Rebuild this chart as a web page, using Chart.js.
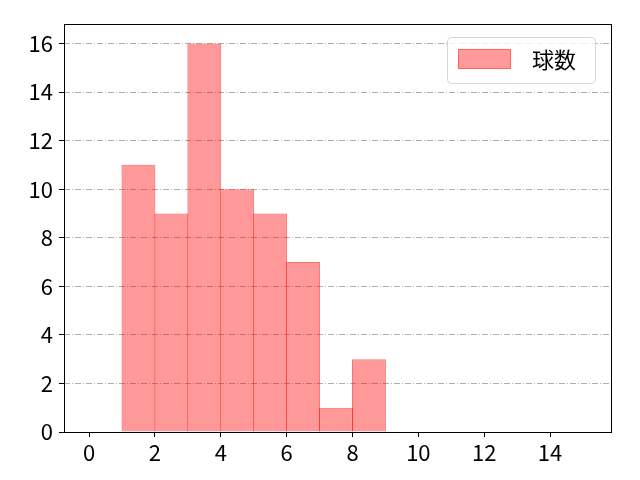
<!DOCTYPE html>
<html><head><meta charset="utf-8">
<script src="https://cdn.jsdelivr.net/npm/chart.js@4/dist/chart.umd.min.js"></script>
<style>html,body{margin:0;padding:0;background:#fff}#wrap{width:640px;height:480px}</style>
</head><body><div id="wrap"><canvas id="c" width="640" height="480"></canvas></div>
<script>
const binEdges = [1, 2, 3, 4, 5, 6, 7, 8, 9];
const counts = [11, 9, 16, 10, 9, 7, 1, 3];
const xTicks = [0, 2, 4, 6, 8, 10, 12, 14];
const yTicks = [0, 2, 4, 6, 8, 10, 12, 14, 16];
const seriesLabel = '球数';

const FONT = '"Noto Sans CJK JP", "Noto Sans", sans-serif';
const data = counts.map((v, i) => ({x: (binEdges[i] + binEdges[i + 1]) / 2, y: v}));

const frame = {
  id: 'frame',
  afterDraw(chart) {
    const {ctx, chartArea: a} = chart;
    ctx.save();
    ctx.strokeStyle = '#000';
    ctx.lineWidth = 1;
    ctx.strokeRect(Math.round(a.left) + 0.5, Math.round(a.top) + 0.5, Math.round(a.right - a.left), Math.round(a.bottom - a.top));
    // legend
    const ds = chart.data.datasets[0];
    const bx = 447.5, by = 37.5, bw = 148, bh = 46, r = 4;
    ctx.beginPath();
    ctx.roundRect(bx, by, bw, bh, r);
    ctx.fillStyle = 'rgba(255,255,255,0.8)';
    ctx.fill();
    ctx.strokeStyle = '#d6d6d6';
    ctx.stroke();
    ctx.fillStyle = ds.backgroundColor;
    ctx.fillRect(458, 49, 53, 20);
    ctx.strokeStyle = 'rgba(255,0,0,0.35)';
    ctx.strokeRect(458.5, 49.5, 52, 19);
    ctx.fillStyle = '#000';
    ctx.font = '22px ' + FONT;
    ctx.textBaseline = 'middle';
    ctx.fillText(ds.label, 532, 60);
    ctx.restore();
  }
};

new Chart(document.getElementById('c'), {
  type: 'bar',
  data: {datasets: [{
    label: seriesLabel,
    data: data,
    backgroundColor: 'rgba(255,0,0,0.4)',
    borderColor: 'rgba(255,0,0,0.55)',
    borderWidth: 1,
    barPercentage: 1.03,
    categoryPercentage: 1,
    grouped: false
  }]},
  options: {
    responsive: false,
    animation: false,
    devicePixelRatio: 1,
    layout: {padding: {top: 24, right: 29, left: 0, bottom: 0}},
    plugins: {legend: {display: false}, tooltip: {enabled: false}},
    scales: {
      x: {
        type: 'linear',
        offset: false,
        min: -0.76, max: 15.85,
        afterBuildTicks: s => { s.ticks = xTicks.map(v => ({value: v})); },
        afterFit: s => { s.height = 48; },
        grid: {offset: false, drawOnChartArea: false, drawTicks: true, tickLength: 5, tickColor: '#000', tickWidth: 1},
        border: {display: false},
        ticks: {color: '#000', font: {family: FONT, size: 22}, padding: 2, maxRotation: 0, autoSkip: false}
      },
      y: {
        z: 1,
        min: 0, max: 16.8,
        afterBuildTicks: s => { s.ticks = yTicks.map(v => ({value: v})); },
        afterFit: s => { s.width = 64; },
        grid: {color: '#b0b0b0', lineWidth: 1, drawTicks: true, tickLength: 5, tickColor: '#000', tickWidth: 1, tickBorderDash: []},
        border: {display: false, dash: [6, 2, 1, 2]},
        ticks: {color: '#000', font: {family: FONT, size: 22}, padding: 6, autoSkip: false}
      }
    }
  },
  plugins: [frame]
});
</script></body></html>
